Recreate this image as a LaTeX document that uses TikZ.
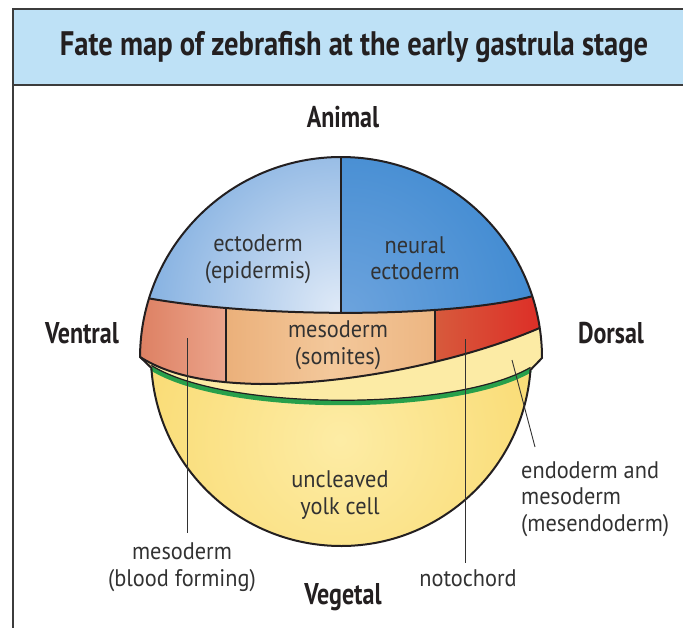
\documentclass[tikz,border=0pt]{standalone}
\usepackage{fontspec}
\setmainfont{PT Sans}
\newfontfamily\labelfont{PT Sans}[FakeStretch=0.93]
\newfontfamily\headfont{PT Sans}[FakeStretch=0.8]
\newfontfamily\titlefamily{PT Sans}[FakeStretch=0.84]
\usetikzlibrary{calc}

\definecolor{headfill}{RGB}{190,225,246}
\definecolor{framegray}{RGB}{60,60,60}
\definecolor{inkline}{RGB}{35,31,32}
\definecolor{labeltext}{RGB}{50,50,50}
\definecolor{ectoin}{RGB}{222,233,247}
\definecolor{ectoout}{RGB}{84,146,213}
\definecolor{neurin}{RGB}{108,163,221}
\definecolor{neurout}{RGB}{44,127,204}
\definecolor{bloodL}{RGB}{220,124,94}
\definecolor{bloodR}{RGB}{235,165,140}
\definecolor{somL}{RGB}{235,176,122}
\definecolor{somM}{RGB}{243,200,155}
\definecolor{somR}{RGB}{237,182,130}
\definecolor{notoL}{RGB}{215,90,60}
\definecolor{notoR}{RGB}{222,38,35}
\definecolor{mesendo}{RGB}{252,235,165}
\definecolor{yolkin}{RGB}{253,236,165}
\definecolor{yolkout}{RGB}{246,206,76}
\definecolor{yslgreen}{RGB}{40,160,75}

\tikzset{
  frameline/.style={draw=framegray, line width=2.5pt},
  outline/.style={draw=inkline, line width=2pt, line join=round},
  divider/.style={draw=inkline, line width=1.4pt},
  leader/.style={draw=labeltext, line width=0.9pt},
  lbl/.style={font=\labelfont\fontsize{24}{26.5}\selectfont, text=labeltext, align=center, inner sep=0pt},
  axislbl/.style={font=\headfont\bfseries\fontsize{30}{34}\selectfont, text=inkline, inner sep=0pt},
  titlefont/.style={font=\titlefamily\bfseries\fontsize{34}{38}\selectfont, text=inkline, inner sep=0pt},
}

\begin{document}
\begin{tikzpicture}[x=1pt,y=-1pt]
\useasboundingbox (0,0) rectangle (683,627);

% frame and title band
\fill[headfill] (13,9) rectangle (700,85);
\draw[frameline] (700,9) -- (13,9) -- (13,640);
\draw[frameline] (13,85) -- (700,85);
\node[titlefont] (title) at (354,47) {Fate map of zebrafish at the early gastrula stage};

% embryo geometry: blastoderm and yolk circles
\coordinate (bc) at (341,358);
\coordinate (yc) at (341,356);
\coordinate (tL) at ($(bc)+(197.25:201)$);
\coordinate (tR) at ($(bc)+(342.1:201)$);
\coordinate (bL) at ($(bc)+(180.3:201)$);
\coordinate (bR) at ($(bc)+(351.4:201)$);
\coordinate (yR) at ($(yc)+(4.2:190)$);
\coordinate (yL) at ($(yc)+(176.4:190)$);

% yolk cell
\begin{scope}
  \clip (yc) circle[radius=190];
  \shade[inner color=yolkin, outer color=yolkout] (340,440) circle[radius=380];
\end{scope}

% mesendoderm crescent
\fill[mesendo] (bL) .. controls (170,376) and (210,383) .. (260,384)
  .. controls (360,384) and (470,358) .. (bR)
  arc[start angle=351.4, end angle=360, radius=201] -- (yR)
  .. controls (455,414) and (225,414) .. (yL) -- cycle;

% yolk syncytial layer
\draw[yslgreen, line width=5pt] (yL) .. controls (225,414) and (455,414) .. (yR);
\draw[inkline, line width=1.2pt] ($(yL)+(0,-2.5)$) .. controls (225,411.5) and (455,411.5) .. ($(yR)+(0,-2.5)$);

% ectoderm cap
\begin{scope}
  \clip (tL) arc[start angle=197.25, end angle=342.1, radius=201]
    .. controls (450,318) and (260,318) .. (tL) -- cycle;
  \begin{scope}
    \clip (100,100) rectangle (341,340);
    \shade[inner color=ectoin, outer color=ectoout] (338,308) circle[radius=300];
  \end{scope}
  \begin{scope}
    \clip (341,100) rectangle (600,340);
    \shade[inner color=neurin, outer color=neurout] (345,312) circle[radius=290];
  \end{scope}
  \draw[divider] (341,150) -- (341,330);
\end{scope}

% marginal mesoderm band
\begin{scope}
  \clip (tL) .. controls (260,318) and (450,318) .. (tR)
    arc[start angle=342.1, end angle=351.4, radius=201]
    .. controls (470,358) and (360,384) .. (260,384)
    .. controls (210,383) and (170,376) .. (bL)
    arc[start angle=180.3, end angle=197.25, radius=201] -- cycle;
  \shade[left color=bloodL, right color=bloodR] (130,290) rectangle (226,400);
  \shade[left color=somL, right color=somR, middle color=somM] (226,290) rectangle (435,400);
  \shade[left color=notoL, right color=notoR] (435,290) rectangle (560,400);
  \draw[divider] (226,290) -- (226,400);
  \draw[divider] (435,290) -- (435,400);
\end{scope}

% outlines
\draw[outline] (tL) .. controls (260,318) and (450,318) .. (tR);
\draw[outline] (bL) .. controls (170,376) and (210,383) .. (260,384)
  .. controls (360,384) and (470,358) .. (bR);
\draw[outline] (bL) arc[start angle=180.3, end angle=360, radius=201] -- (yR)
  arc[start angle=4.2, end angle=176.4, radius=190] -- cycle;

% axis labels
\node[axislbl] (animal) at (343,117) {Animal};
\node[axislbl] (ventral) at (82,333) {Ventral};
\node[axislbl] (dorsal) at (611,333) {Dorsal};
\node[axislbl] (vegetal) at (343,597) {Vegetal};

% region labels
\node[lbl] (ecto) at (258,259) {ectoderm\\(epidermis)};
\node[lbl] (neural) at (415,258) {neural\\ectoderm};
\node[lbl] (somites) at (338,345) {mesoderm\\(somites)};
\node[lbl] (yolk) at (340,495) {uncleaved\\yolk cell};
\node[lbl, align=left, anchor=west] (mesendoLbl) at (521,499) {endoderm and\\mesoderm\\(mesendoderm)};
\node[lbl] (blood) at (182,567) {mesoderm\\(blood forming)};
\node[lbl] (noto) at (468,578) {notochord};

% leader lines
\coordinate (bfTop) at (187,338);
\coordinate (bfBot) at (187,533);
\coordinate (ncTop) at (465,339);
\coordinate (ncBot) at (465,563);
\coordinate (meTop) at (512,360);
\coordinate (meBot) at (535,447);
\draw[leader] (bfTop) -- (bfBot);
\draw[leader] (ncTop) -- (ncBot);
\draw[leader] (meTop) -- (meBot);
\end{tikzpicture}
\end{document}
